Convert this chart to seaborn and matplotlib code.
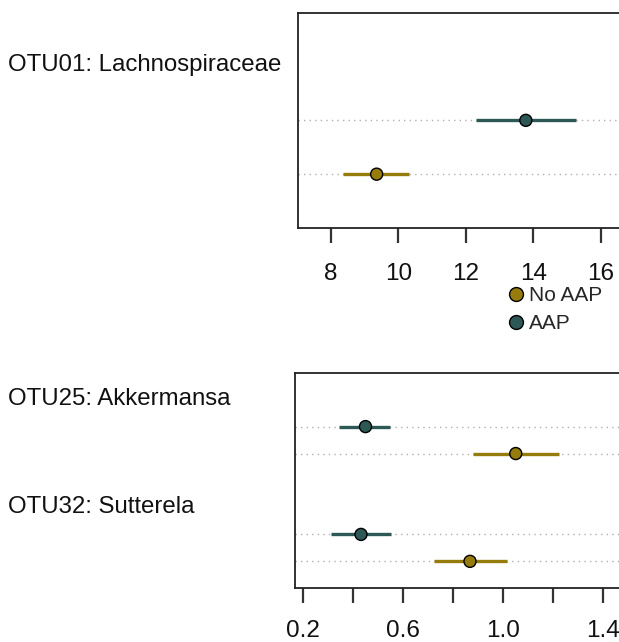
import matplotlib
matplotlib.use("Agg")
import matplotlib.pyplot as plt
import matplotlib.transforms as mtransforms
from matplotlib.lines import Line2D
import seaborn as sns
import pandas as pd

sns.set_theme(style="white")
plt.rcParams['font.family'] = ['Liberation Sans', 'DejaVu Sans']

# ---- data ----
groups = ["No AAP", "AAP"]
colors = {"No AAP": "#967c0c", "AAP": "#2d5855"}

top_otus = ["OTU01: Lachnospiraceae"]
top_noaap_est = [9.36]
top_noaap_lo = [8.37]
top_noaap_hi = [10.33]
top_aap_est = [13.78]
top_aap_lo = [12.30]
top_aap_hi = [15.27]
top_ticks = [8, 10, 12, 14, 16]
top_ticklabels = ["8", "10", "12", "14", "16"]

bot_otus = ["OTU25: Akkermansa", "OTU32: Sutterela"]
bot_noaap_est = [1.05, 0.867]
bot_noaap_lo = [0.877, 0.723]
bot_noaap_hi = [1.221, 1.014]
bot_aap_est = [0.449, 0.431]
bot_aap_lo = [0.344, 0.311]
bot_aap_hi = [0.547, 0.551]
bot_ticks = [0.2, 0.4, 0.6, 0.8, 1.0, 1.2, 1.4]
bot_ticklabels = ["0.2", "", "0.6", "", "1.0", "", "1.4"]


def build(otus, ne, nl, nh, ae, al, ah):
    rows = []
    n = len(otus)
    for i, o in enumerate(otus):
        base = 4 * (n - 1 - i)
        rows.append(dict(otu=o, group="No AAP", est=ne[i], lo=nl[i], hi=nh[i], y=base + 1))
        rows.append(dict(otu=o, group="AAP", est=ae[i], lo=al[i], hi=ah[i], y=base + 2))
    return pd.DataFrame(rows)


df_top = build(top_otus, top_noaap_est, top_noaap_lo, top_noaap_hi,
               top_aap_est, top_aap_lo, top_aap_hi)
df_bot = build(bot_otus, bot_noaap_est, bot_noaap_lo, bot_noaap_hi,
               bot_aap_est, bot_aap_lo, bot_aap_hi)

W, H = 619, 642
fig = plt.figure(figsize=(W / 100, H / 100), dpi=100)
ax1 = fig.add_axes([298 / W, 1 - 228 / H, 1 - 298 / W, (228 - 12.7) / H])
ax2 = fig.add_axes([295 / W, 1 - 588.3 / H, 1 - 295 / W, (588.3 - 372.7) / H])


def draw(ax, df, otus, xlim, ticks, ticklabels, pad):
    n = len(otus)
    ax.set_xlim(*xlim)
    ax.set_ylim(0, 4 * n)
    for y in df["y"]:
        ax.axhline(y, color="#b0b0b0", lw=1.0, ls=(0, (1, 3)), zorder=1)
    for _, r in df.iterrows():
        ax.hlines(r["y"], r["lo"], r["hi"], color=colors[r["group"]], lw=2.4, zorder=2)
    sns.scatterplot(data=df, x="est", y="y", hue="group", palette=colors,
                    hue_order=groups, s=75, edgecolor="black", linewidth=1.0,
                    legend=False, ax=ax, zorder=3)
    ax.set_xlabel("")
    ax.set_ylabel("")
    ax.set_yticks([])
    ax.set_xticks(ticks)
    ax.set_xticklabels(ticklabels)
    ax.tick_params(axis="x", bottom=True, length=11, width=1.6, color="#333333",
                   labelsize=17.5, pad=pad, labelcolor="#111111")
    for s in ["left", "top", "bottom"]:
        ax.spines[s].set_visible(True)
        ax.spines[s].set_color("#222222")
        ax.spines[s].set_linewidth(1.3)
    ax.spines["right"].set_visible(False)
    trans = mtransforms.blended_transform_factory(fig.transFigure, ax.transData)
    for i, o in enumerate(otus):
        base = 4 * (n - 1 - i)
        ax.text(8 / W, base + 3.03, o, transform=trans, ha="left", va="center",
                fontsize=17.3, color="#111111")


draw(ax1, df_top, top_otus, (7.03, 16.54), top_ticks, top_ticklabels, 14)
draw(ax2, df_bot, bot_otus, (0.167, 1.463), bot_ticks, bot_ticklabels, 12)

handles = [Line2D([], [], marker="o", ls="", markersize=10, markerfacecolor=colors[g],
                  markeredgecolor="black", markeredgewidth=1.0) for g in groups]
fig.legend(handles, groups, loc="upper left", bbox_to_anchor=(510 / W, 1 - 286 / H),
           frameon=False, fontsize=15, handlelength=0.6, handletextpad=0.3,
           borderpad=0, borderaxespad=0, labelspacing=0.45)

fig.savefig("out.png", dpi=100)
